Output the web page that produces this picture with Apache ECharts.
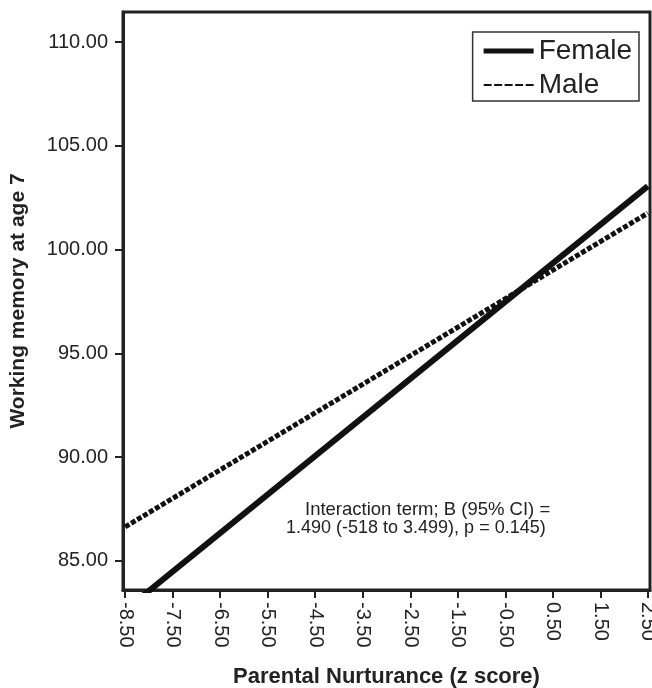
<!DOCTYPE html>
<html><head><meta charset="utf-8">
<script src="https://cdn.jsdelivr.net/npm/echarts@6/dist/echarts.min.js"></script>
<style>html,body{margin:0;padding:0;background:#fff}#c{width:652px;height:688px}</style>
</head><body><div id="c"></div>
<script>
const xTicks = [-8.5,-7.5,-6.5,-5.5,-4.5,-3.5,-2.5,-1.5,-0.5,0.5,1.5,2.5];
const yTicks = [85,90,95,100,105,110];
const femaleX = [-8.5, 2.5];
const femaleY = [82.63, 103.06];
const maleX = [-8.5, 2.5];
const maleY = [86.64, 101.76];
const note1 = 'Interaction term; B (95% CI) =';
const note2 = '1.490 (-518 to 3.499), p = 0.145)';

const chart = echarts.init(document.getElementById('c'));
const F = 'Liberation Sans, Arial, Helvetica, sans-serif';
const axisCol = '#222';
chart.setOption({
  animation: false,
  backgroundColor: '#fff',
  grid: {left: 123, top: 12, width: 527, height: 578, show: true, borderColor: axisCol, borderWidth: 3,
    containLabel: false, outerBoundsMode: 'none'},
  xAxis: {
    type: 'value', min: -8.545, max: 2.545,
    name: 'Parental Nurturance (z score)', nameLocation: 'middle', nameGap: 76,
    nameTextStyle: {fontFamily: F, fontSize: 22, fontWeight: 'bold', color: '#222'},
    axisLine: {show: true, onZero: false, lineStyle: {color: axisCol, width: 3}},
    axisTick: {show: true, length: 8, lineStyle: {color: axisCol, width: 2}, customValues: xTicks},
    axisLabel: {customValues: xTicks, rotate: -90, margin: 12, fontFamily: F, fontSize: 20, color: '#222',
      formatter: v => v.toFixed(2)},
    splitLine: {show: false}
  },
  yAxis: {
    type: 'value', min: 83.6, max: 111.45,
    name: 'Working memory at age 7', nameLocation: 'middle', nameGap: 94, nameRotate: 90,
    nameTextStyle: {fontFamily: F, fontSize: 21, fontWeight: 'bold', color: '#222'},
    axisLine: {show: true, onZero: false, lineStyle: {color: axisCol, width: 3}},
    axisTick: {show: true, length: 8, lineStyle: {color: axisCol, width: 2}, customValues: yTicks},
    axisLabel: {customValues: yTicks, margin: 15, fontFamily: F, fontSize: 20, color: '#222',
      formatter: v => v.toFixed(2)},
    splitLine: {show: false}
  },
  legend: {
    show: true, orient: 'vertical', right: 13, top: 32,
    backgroundColor: '#fff', borderColor: '#333', borderWidth: 1.5, borderRadius: 0,
    padding: [5, 7, 2, 11], itemGap: 6, itemWidth: 50, itemHeight: 28,
    textStyle: {fontFamily: F, fontSize: 28, lineHeight: 28, color: '#222'},
    data: [
      {name: 'Female', icon: 'path://M0,0 L50,0 L50,5 L0,5 Z', itemStyle: {color: '#111'}},
      {name: 'Male', icon: 'path://M0,0 L8,0 L8,2 L0,2 Z M10.5,0 L18.5,0 L18.5,2 L10.5,2 Z M21,0 L29,0 L29,2 L21,2 Z M31.5,0 L39.5,0 L39.5,2 L31.5,2 Z M42,0 L50,0 L50,2 L42,2 Z', itemStyle: {color: '#111'}}
    ]
  },
  series: [
    {name: 'Female', type: 'line', data: femaleX.map((x,i)=>[x, femaleY[i]]), showSymbol: false, symbol: 'none',
      clip: true, lineStyle: {color: '#111', width: 6}, itemStyle: {color: '#111'}, z: 3},
    {name: 'Male', type: 'line', data: maleX.map((x,i)=>[x, maleY[i]]), showSymbol: false, symbol: 'none',
      clip: true, lineStyle: {color: '#111', width: 5, type: [5, 2]}, itemStyle: {color: '#111'}, z: 2}
  ],
  graphic: [
    {type: 'text', left: 305, top: 500, style: {text: note1, font: '18.5px ' + F, fill: '#222'}},
    {type: 'text', left: 286, top: 519, style: {text: note2, font: '18px ' + F, fill: '#222'}}
  ]
});
</script></body></html>
